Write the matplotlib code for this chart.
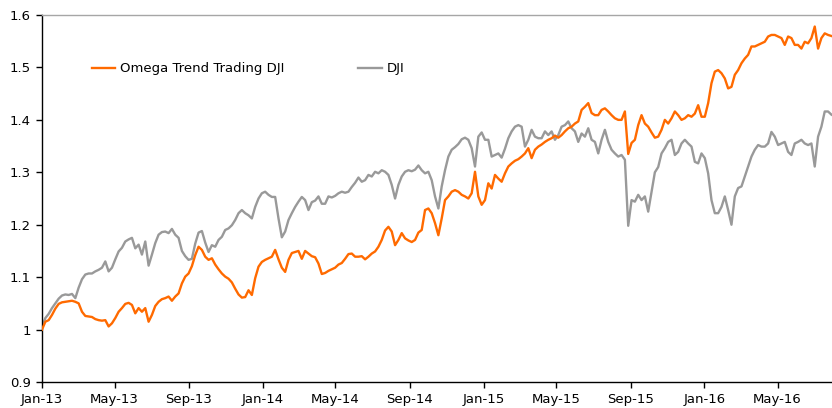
import matplotlib
matplotlib.use("Agg")
import matplotlib.pyplot as plt
import matplotlib.dates as mdates
import matplotlib.ticker as mticker
import pandas as pd

start_date = "2013-01-01"
end_date = "2016-07-29"

omega = [
    1.000, 1.015, 1.018, 1.028, 1.040, 1.049, 1.052, 1.053, 1.054, 1.055,
    1.053, 1.050, 1.034, 1.026, 1.025, 1.024, 1.020, 1.018, 1.017, 1.018,
    1.006, 1.012, 1.022, 1.034, 1.041, 1.049, 1.051, 1.047, 1.031, 1.041,
    1.034, 1.041, 1.015, 1.028, 1.045, 1.053, 1.058, 1.060, 1.063, 1.055,
    1.063, 1.069, 1.088, 1.101, 1.107, 1.121, 1.142, 1.158, 1.152, 1.139,
    1.133, 1.136, 1.124, 1.115, 1.107, 1.101, 1.097, 1.090, 1.078, 1.067,
    1.061, 1.062, 1.075, 1.066, 1.098, 1.120, 1.129, 1.133, 1.136, 1.139,
    1.152, 1.134, 1.118, 1.110, 1.133, 1.146, 1.148, 1.150, 1.135, 1.150,
    1.145, 1.140, 1.138, 1.126, 1.106, 1.108, 1.112, 1.115, 1.118, 1.124,
    1.127, 1.135, 1.144, 1.145, 1.139, 1.139, 1.140, 1.134, 1.139, 1.145,
    1.149, 1.158, 1.171, 1.189, 1.196, 1.187, 1.161, 1.171, 1.184, 1.174,
    1.170, 1.167, 1.171, 1.185, 1.190, 1.228, 1.231, 1.222, 1.203, 1.180,
    1.212, 1.247, 1.254, 1.263, 1.266, 1.263, 1.257, 1.254, 1.250, 1.260,
    1.301, 1.254, 1.238, 1.247, 1.279, 1.269, 1.295, 1.288, 1.282, 1.298,
    1.311, 1.317, 1.322, 1.325, 1.330, 1.336, 1.346, 1.327, 1.343, 1.349,
    1.353, 1.358, 1.362, 1.365, 1.370, 1.366, 1.371, 1.378, 1.384, 1.387,
    1.393, 1.397, 1.419, 1.425, 1.432, 1.413, 1.409, 1.409, 1.419, 1.422,
    1.416, 1.409, 1.403, 1.400, 1.400, 1.416, 1.335, 1.356, 1.362, 1.390,
    1.409, 1.393, 1.387, 1.376, 1.366, 1.368, 1.381, 1.400, 1.393, 1.403,
    1.416, 1.409, 1.400, 1.403, 1.409, 1.406, 1.412, 1.428, 1.406, 1.406,
    1.432, 1.470, 1.492, 1.495, 1.489, 1.479, 1.460, 1.463, 1.486, 1.495,
    1.508, 1.517, 1.524, 1.540, 1.540, 1.543, 1.546, 1.549, 1.559, 1.562,
    1.562, 1.559, 1.556, 1.543, 1.559, 1.556, 1.543, 1.543, 1.536, 1.549,
    1.546, 1.556, 1.578, 1.536, 1.556, 1.565, 1.562, 1.560,
]

dji = [
    1.005, 1.022, 1.030, 1.041, 1.050, 1.059, 1.065, 1.067, 1.066, 1.068,
    1.060, 1.080, 1.096, 1.105, 1.107, 1.107, 1.111, 1.114, 1.118, 1.130,
    1.111, 1.118, 1.134, 1.149, 1.156, 1.168, 1.172, 1.175, 1.155, 1.162,
    1.143, 1.168, 1.122, 1.143, 1.165, 1.181, 1.186, 1.187, 1.184, 1.192,
    1.181, 1.175, 1.150, 1.140, 1.133, 1.135, 1.164, 1.185, 1.188, 1.166,
    1.148, 1.161, 1.158, 1.171, 1.177, 1.190, 1.193, 1.199, 1.209, 1.222,
    1.228, 1.222, 1.218, 1.212, 1.234, 1.250, 1.260, 1.263, 1.257, 1.253,
    1.253, 1.212, 1.176, 1.187, 1.209, 1.222, 1.234, 1.244, 1.253, 1.247,
    1.228, 1.243, 1.246, 1.254, 1.240, 1.240, 1.254, 1.252, 1.255, 1.260,
    1.263, 1.261, 1.263, 1.272, 1.280, 1.290, 1.282, 1.285, 1.295, 1.292,
    1.301, 1.298, 1.304, 1.301, 1.295, 1.276, 1.250, 1.276, 1.292, 1.301,
    1.304, 1.302, 1.305, 1.313, 1.304, 1.298, 1.301, 1.285, 1.254, 1.231,
    1.273, 1.304, 1.330, 1.343, 1.348, 1.354, 1.363, 1.366, 1.362, 1.346,
    1.311, 1.368, 1.376, 1.362, 1.362, 1.330, 1.333, 1.336, 1.328, 1.345,
    1.365, 1.378, 1.387, 1.390, 1.387, 1.349, 1.362, 1.381, 1.368, 1.365,
    1.365, 1.378, 1.371, 1.378, 1.362, 1.371, 1.387, 1.390, 1.397, 1.384,
    1.378, 1.358, 1.374, 1.368, 1.384, 1.362, 1.358, 1.336, 1.362, 1.381,
    1.358, 1.343, 1.336, 1.330, 1.333, 1.324, 1.198, 1.247, 1.244, 1.257,
    1.247, 1.254, 1.225, 1.262, 1.300, 1.310, 1.336, 1.346, 1.358, 1.362,
    1.333, 1.339, 1.355, 1.362, 1.355, 1.349, 1.320, 1.317, 1.336, 1.327,
    1.298, 1.247, 1.222, 1.222, 1.234, 1.254, 1.228, 1.200, 1.254, 1.270,
    1.273, 1.292, 1.311, 1.330, 1.343, 1.352, 1.349, 1.349, 1.355, 1.377,
    1.368, 1.352, 1.355, 1.358, 1.339, 1.333, 1.355, 1.358, 1.362, 1.355,
    1.352, 1.355, 1.311, 1.368, 1.387, 1.416, 1.416, 1.410,
]

series_names = ["Omega Trend Trading DJI", "DJI"]
series_colors = ["#FF6A00", "#999999"]

dates = pd.date_range(start_date, end_date, periods=len(omega))

plt.rcParams["font.family"] = ["DejaVu Sans"]
fig = plt.figure(figsize=(8.32, 4.08), dpi=100)
ax = fig.add_axes([0.0505, 0.0637, 0.9495, 0.8995])

ax.plot(dates, dji, color=series_colors[1], lw=1.7, label=series_names[1], zorder=2)
ax.plot(dates, omega, color=series_colors[0], lw=1.7, label=series_names[0], zorder=3)

ax.set_ylim(0.9, 1.6)
ax.set_xlim(pd.Timestamp("2013-01-01"), pd.Timestamp("2016-07-30"))
ax.yaxis.set_major_locator(mticker.MultipleLocator(0.1))
ax.yaxis.set_major_formatter(mticker.FuncFormatter(lambda v, p: f"{v:g}"))
ax.xaxis.set_major_locator(mdates.MonthLocator(bymonth=[1, 5, 9]))
ax.xaxis.set_major_formatter(mdates.DateFormatter("%b-%y"))

for s in ["left", "bottom"]:
    ax.spines[s].set_color("black")
    ax.spines[s].set_linewidth(1.0)
ax.spines["top"].set_color("#A6A6A6")
ax.spines["top"].set_linewidth(1.0)
ax.spines["right"].set_visible(False)
ax.tick_params(axis="both", direction="out", length=4, width=1, labelsize=9.5, colors="black")
ax.tick_params(axis="x", pad=4)
ax.tick_params(axis="y", pad=4)

handles, labels = ax.get_legend_handles_labels()
leg = ax.legend(handles[::-1], labels[::-1], ncol=2, frameon=False, loc="center left",
                bbox_to_anchor=(0.0627, 0.853), borderaxespad=0, borderpad=0,
                handlelength=1.8, handletextpad=0.35, columnspacing=5.6, fontsize=9.5)

fig.savefig("out.png", dpi=100)
